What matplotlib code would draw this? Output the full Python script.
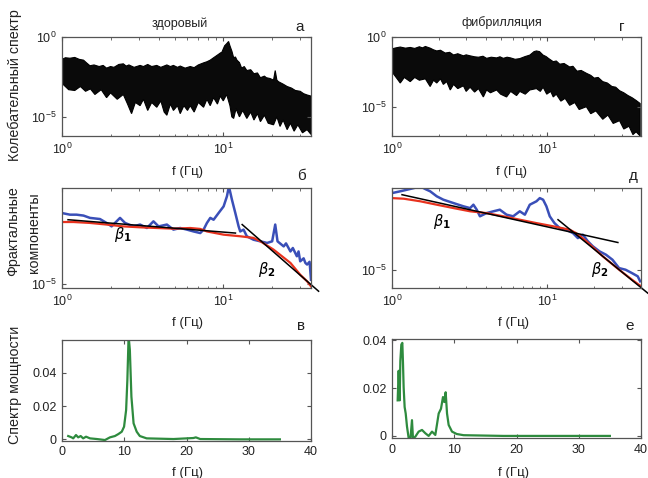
import numpy as np
import matplotlib
matplotlib.use("Agg")
import matplotlib.pyplot as plt
from matplotlib.ticker import FixedLocator, NullLocator, LogLocator, NullFormatter

plt.rcParams['font.family'] = ['Liberation Sans', 'DejaVu Sans']
plt.rcParams['axes.unicode_minus'] = True

# ---------------- data ----------------
# Panel a (healthy) oscillation-spectrum band: log10 envelopes
a_up_f = [1.0, 1.05, 1.12, 1.2, 1.28, 1.36, 1.42, 1.49, 1.58, 1.7, 1.8, 1.89, 2.0, 2.1, 2.25, 2.4, 2.5,
          2.6, 2.8, 3.05, 3.2, 3.4, 3.6, 3.87, 4.1, 4.47, 4.7, 4.91, 5.2, 5.41, 5.8, 6.24, 6.6, 7.0,
          7.55, 7.92, 8.3, 8.71, 9.0, 9.3, 9.6, 9.81, 10.0, 10.2, 10.54, 10.79, 11.0, 11.32, 11.6,
          11.9, 12.16, 12.6, 13.0, 13.5, 14.0, 14.8, 15.5, 16.3, 17.0, 18.0, 18.5, 19.5, 20.5, 21.0,
          21.5, 22.0, 23.5, 24.9, 26.5, 28.0, 30.0, 31.5, 33.1, 35.0]
a_up_lg = [-1.40, -1.30, -1.33, -1.28, -1.40, -1.45, -1.62, -1.80, -1.75, -1.85, -1.78, -1.95, -1.85,
           -1.90, -1.72, -1.68, -1.82, -1.75, -1.90, -1.78, -1.85, -1.72, -1.85, -1.78, -1.90, -1.75,
           -1.85, -1.78, -1.90, -1.82, -1.95, -1.85, -1.92, -1.75, -1.62, -1.55, -1.45, -1.30, -1.20,
           -1.10, -1.00, -0.95, -0.75, -0.55, -0.40, -0.28, -0.55, -0.90, -1.30, -1.25, -1.45, -1.60,
           -1.95, -1.85, -2.10, -2.05, -2.30, -2.25, -2.55, -2.45, -2.55, -2.60, -2.70, -2.10, -2.70,
           -2.80, -2.95, -3.10, -3.20, -3.35, -3.40, -3.55, -3.63, -3.70]
a_lo_f = [1.0, 1.1, 1.2, 1.3, 1.4, 1.5, 1.6, 1.75, 1.89, 2.0, 2.2, 2.4, 2.55, 2.7, 2.85, 3.05, 3.2, 3.4,
          3.6, 3.87, 4.1, 4.3, 4.47, 4.7, 4.91, 5.2, 5.41, 5.7, 6.0, 6.24, 6.6, 7.0, 7.55, 7.92, 8.3,
          8.71, 9.2, 9.58, 10.0, 10.5, 11.0, 11.3, 11.6, 12.0, 12.6, 13.2, 14.0, 14.8, 15.5, 16.3, 17.0,
          18.0, 19.0, 20.5, 21.5, 22.5, 23.5, 24.9, 26.1, 27.5, 29.0, 31.0, 33.1, 35.0]
a_lo_lg = [-2.9, -3.3, -3.35, -3.1, -3.4, -3.25, -3.6, -3.3, -3.8, -3.5, -3.9, -3.6, -4.2, -4.8, -4.1,
           -4.3, -3.9, -4.6, -4.1, -4.4, -4.0, -4.7, -4.9, -4.2, -4.6, -4.3, -4.8, -4.3, -4.6, -4.3,
           -4.7, -4.1, -4.4, -3.9, -4.3, -3.8, -4.2, -3.7, -4.0, -3.6, -4.3, -5.0, -5.1, -4.5, -5.0,
           -4.6, -5.1, -4.7, -5.2, -4.8, -5.3, -4.9, -5.4, -5.5, -5.0, -5.6, -5.2, -5.8, -5.4, -5.9,
           -5.5, -6.0, -5.8, -6.1]

# Panel г (fibrillation) band
g_up_f = [1.0, 1.06, 1.13, 1.22, 1.31, 1.4, 1.5, 1.57, 1.64, 1.76, 1.85, 1.94, 2.05, 2.2, 2.35, 2.49,
          2.65, 2.88, 3.0, 3.18, 3.4, 3.6, 3.85, 4.06, 4.35, 4.71, 4.95, 5.2, 5.5, 5.8, 6.2, 6.64, 7.2,
          7.7, 8.2, 8.5, 8.9, 9.38, 9.8, 10.2, 10.9, 11.4, 12.0, 12.8, 13.9, 14.6, 15.5, 16.5, 17.8,
          19.0, 20.0, 21.2, 22.7, 24.3, 26.0, 27.5, 29.1, 31.0, 33.0, 35.0, 37.2, 39.5]
g_up_lg = [-0.85, -0.78, -0.72, -0.80, -0.75, -0.82, -0.70, -0.78, -0.68, -0.80, -0.92, -1.00, -0.95,
           -1.15, -1.10, -1.29, -1.20, -1.35, -1.28, -1.35, -1.42, -1.45, -1.38, -1.53, -1.45, -1.50,
           -1.42, -1.53, -1.45, -1.50, -1.60, -1.55, -1.40, -1.30, -1.05, -1.00, -1.05, -1.30, -1.40,
           -1.55, -1.77, -1.72, -1.95, -1.90, -2.15, -2.10, -2.45, -2.40, -2.60, -2.75, -2.95, -2.90,
           -3.20, -3.30, -3.55, -3.60, -3.85, -4.00, -4.20, -4.35, -4.55, -4.77]
g_lo_f = [1.0, 1.08, 1.13, 1.2, 1.31, 1.4, 1.5, 1.64, 1.76, 1.85, 1.94, 2.05, 2.14, 2.25, 2.37, 2.49,
          2.65, 2.88, 3.0, 3.18, 3.4, 3.6, 3.87, 4.06, 4.3, 4.71, 5.0, 5.46, 5.8, 6.33, 6.64, 7.2, 7.7,
          8.5, 9.0, 9.38, 9.9, 10.5, 10.9, 11.4, 12.2, 13.0, 13.9, 15.0, 16.0, 17.8, 19.0, 20.5, 22.7,
          24.5, 26.5, 29.1, 31.0, 33.5, 35.5, 37.2, 39.5]
g_lo_lg = [-2.5, -3.0, -3.3, -2.9, -3.2, -2.9, -3.1, -3.0, -3.55, -3.1, -3.3, -3.0, -3.4, -3.2, -3.8,
           -3.4, -3.7, -3.5, -3.9, -3.6, -3.95, -3.7, -4.3, -3.8, -4.0, -3.8, -4.1, -4.3, -3.9, -4.2,
           -3.9, -4.1, -3.8, -3.7, -3.9, -3.6, -4.1, -3.9, -4.3, -4.1, -4.6, -4.4, -4.9, -4.7, -5.2,
           -5.0, -5.5, -5.3, -5.9, -5.6, -6.2, -6.0, -6.6, -6.4, -7.0, -6.8, -7.1]

# Panel б fractal components (healthy)
b_blue_f = [1.0, 1.12, 1.23, 1.36, 1.49, 1.72, 1.89, 2.03, 2.18, 2.29, 2.46, 2.77, 3.05, 3.36, 3.69,
            3.97, 4.47, 4.91, 5.41, 5.95, 6.54, 7.2, 7.55, 7.92, 8.31, 8.71, 9.35, 10.05, 10.54, 10.84,
            11.32, 11.88, 12.45, 12.74, 13.36, 14.0, 15.4, 17.0, 18.7, 20.1, 21.0, 21.7, 23.7, 24.5,
            26.1, 27.0, 28.6, 29.3, 30.0, 31.5, 32.3, 33.1, 34.3, 35.0]
b_blue_lg = [-1.93, -2.0, -2.0, -2.04, -2.14, -2.19, -2.36, -2.51, -2.29, -2.14, -2.36, -2.51, -2.43,
             -2.58, -2.29, -2.51, -2.43, -2.65, -2.58, -2.65, -2.73, -2.80, -2.65, -2.36, -2.14, -2.22,
             -1.93, -1.64, -1.20, -0.77, -1.35, -1.93, -2.51, -2.73, -2.65, -2.94, -3.09, -3.16, -3.23,
             -3.16, -2.43, -3.16, -3.38, -3.25, -3.60, -3.45, -3.81, -3.60, -4.03, -3.90, -4.10, -4.17,
             -4.05, -4.83]
b_red_f = [1.0, 1.18, 1.49, 1.89, 2.40, 3.05, 3.87, 4.91, 6.24, 7.2, 7.92, 10.05, 12.74, 15.4, 17.0,
           20.5, 26.1, 30.0, 33.1, 35.0]
b_red_lg = [-2.32, -2.32, -2.36, -2.43, -2.51, -2.55, -2.58, -2.61, -2.58, -2.62, -2.73, -2.87, -2.94,
            -3.01, -3.16, -3.52, -4.10, -4.61, -4.90, -5.12]
b_beta1_f = [1.09, 11.9]
b_beta1_lg = [-2.22, -2.80]
b_beta2_f = [13.1, 39.0]
b_beta2_lg = [-2.43, -5.33]

# Panel д fractal components (fibrillation)
d_blue_f = [1.0, 1.13, 1.25, 1.38, 1.52, 1.64, 1.76, 1.94, 2.14, 2.49, 2.88, 3.18, 3.34, 3.51, 3.68,
            4.06, 4.49, 4.94, 5.46, 6.02, 6.64, 7.16, 7.7, 8.5, 8.93, 9.38, 9.85, 10.35, 11.1, 12.0,
            13.2, 14.6, 15.7, 16.9, 18.2, 19.6, 21.6, 23.8, 26.2, 28.9, 31.8, 35.0, 38.1, 39.5]
d_blue_lg = [-1.17, -1.08, -1.0, -0.92, -0.83, -0.97, -1.08, -1.33, -1.5, -1.67, -1.83, -1.92, -1.75,
             -2.0, -2.33, -2.17, -2.08, -2.0, -2.25, -2.33, -2.08, -2.25, -1.75, -1.58, -1.42, -1.5,
             -1.83, -2.33, -2.67, -2.92, -3.0, -3.17, -3.42, -3.25, -3.58, -3.83, -4.08, -4.25, -4.5,
             -4.92, -5.0, -5.17, -5.33, -5.58]
d_red_f = [1.0, 1.19, 1.52, 1.94, 2.49, 3.18, 4.06, 5.2, 6.64, 8.5, 10.9, 13.9, 15.3, 17.8, 22.7, 28.9,
           35.0, 39.5]
d_red_lg = [-1.42, -1.45, -1.58, -1.75, -1.92, -2.08, -2.17, -2.33, -2.5, -2.67, -2.83, -3.0, -3.17,
            -3.58, -4.33, -5.0, -5.5, -5.8]
d_beta1_f = [1.16, 28.4]
d_beta1_lg = [-1.25, -3.64]
d_beta2_f = [11.7, 44.2]
d_beta2_lg = [-2.5, -6.17]

# Panel в power spectrum (healthy)
v_f = [1.0, 1.55, 1.8, 2.25, 2.6, 3.0, 3.4, 3.86, 4.5, 5.6, 6.9, 7.7, 8.5, 9.06, 9.6, 9.97, 10.3, 10.5,
       10.7, 10.9, 11.15, 11.5, 12.0, 12.5, 13.6, 17.9, 21.1, 21.5, 22.2, 28.6, 35.0]
v_p = [0.002, 0.0012, 0.0006, 0.0026, 0.0012, 0.002, 0.0006, 0.0016, 0.0006, 0.0002, -0.0004, 0.0012,
       0.002, 0.0032, 0.0046, 0.0076, 0.0176, 0.0356, 0.062, 0.0536, 0.0256, 0.0096, 0.0046, 0.002,
       0.0006, 0.0002, 0.0008, 0.0012, 0.0002, 0.0, 0.0]

# Panel е power spectrum (fibrillation)
e_f = [0.91, 1.07, 1.23, 1.34, 1.50, 1.66, 1.77, 1.87, 2.03, 2.2, 2.41, 2.68, 2.95, 3.21, 3.37, 3.75,
       4.28, 4.82, 5.36, 5.89, 6.43, 6.96, 7.5, 7.87, 8.19, 8.41, 8.62, 8.84, 9.1, 9.64, 10.4, 11.5,
       17.9, 35.0]
e_p = [0.0149, 0.0273, 0.0149, 0.0314, 0.0383, 0.039, 0.0301, 0.0204, 0.0121, 0.0094, 0.0039, -0.001,
       -0.0017, 0.0066, -0.001, -0.0003, 0.0018, 0.0025, 0.0011, 0.0, 0.0018, 0.0004, 0.0094, 0.0114,
       0.0163, 0.0142, 0.0183, 0.0094, 0.0046, 0.0018, 0.0008, 0.0003, 0.0, 0.0]

# ---------------- figure ----------------
W, H = 648, 478
fig = plt.figure(figsize=(W / 100, H / 100), dpi=100)


def rect(l, t, r, b):
    return [l / W, 1 - b / H, (r - l) / W, (b - t) / H]


def px(x, y):
    return x / W, 1 - y / H


FRAME = '#555555'
TICKFS = 9


def style(ax):
    for s in ax.spines.values():
        s.set_color(FRAME)
        s.set_linewidth(0.9)
    ax.tick_params(which='both', direction='in', top=True, right=True, color=FRAME,
                   labelsize=TICKFS, labelcolor='#222222', pad=4)
    ax.tick_params(which='major', length=3)
    ax.tick_params(which='minor', length=1.8)


def logax(ax, xmax, ylo, yhi, yticks):
    ax.set_xscale('log')
    ax.set_yscale('log')
    ax.set_xlim(1, xmax)
    ax.set_ylim(10 ** ylo, 10 ** yhi)
    ax.xaxis.set_major_locator(FixedLocator([1, 10]))
    ax.xaxis.set_minor_locator(LogLocator(base=10, subs=np.arange(2, 10)))
    ax.xaxis.set_minor_formatter(NullFormatter())
    ax.yaxis.set_major_locator(FixedLocator(yticks))
    ax.yaxis.set_minor_locator(NullLocator())
    style(ax)


def band(ax, fu, lu, fl, ll):
    xs = np.concatenate([fu, np.array(fl)[::-1]])
    ys = 10 ** np.concatenate([lu, np.array(ll)[::-1]])
    ax.fill(xs, ys, color='#0a0a0a', lw=0.8, ec='black')


# a
ax_a = fig.add_axes(rect(62, 37, 311, 136))
band(ax_a, a_up_f, a_up_lg, a_lo_f, a_lo_lg)
logax(ax_a, 35, -6.2, 0.0, [1e-5, 1e0])

# г
ax_g = fig.add_axes(rect(392, 37, 641, 136))
band(ax_g, g_up_f, g_up_lg, g_lo_f, g_lo_lg)
logax(ax_g, 40, -7.1, 0.0, [1e-5, 1e0])

BLUE = '#3a4fb8'
RED = '#e8321e'

# б
ax_b = fig.add_axes(rect(62, 188, 311, 288))
ax_b.plot(b_blue_f, 10 ** np.array(b_blue_lg), color=BLUE, lw=1.8)
ax_b.plot(b_red_f, 10 ** np.array(b_red_lg), color=RED, lw=1.6)
ax_b.plot(b_beta1_f, 10 ** np.array(b_beta1_lg), color='black', lw=1.1)
ax_b.plot(b_beta2_f, 10 ** np.array(b_beta2_lg), color='black', lw=1.1, clip_on=False)
logax(ax_b, 35, -5.19, -0.84, [1e-5])
ax_b.text(2.4, 10 ** -2.87, r'$\beta_{\mathbf{1}}$', fontsize=10.5, ha='center', va='center')
ax_b.text(18.7, 10 ** -4.39, r'$\beta_{\mathbf{2}}$', fontsize=10.5, ha='center', va='center')

# д
ax_d = fig.add_axes(rect(392, 188, 641, 288))
ax_d.plot(d_blue_f, 10 ** np.array(d_blue_lg), color=BLUE, lw=1.8)
ax_d.plot(d_red_f, 10 ** np.array(d_red_lg), color=RED, lw=1.6)
ax_d.plot(d_beta1_f, 10 ** np.array(d_beta1_lg), color='black', lw=1.1)
ax_d.plot(d_beta2_f, 10 ** np.array(d_beta2_lg), color='black', lw=1.1, clip_on=False)
logax(ax_d, 40, -5.915, -0.915, [1e-5])
ax_d.text(2.1, 10 ** -2.58, r'$\beta_{\mathbf{1}}$', fontsize=10.5, ha='center', va='center')
ax_d.text(21.6, 10 ** -4.97, r'$\beta_{\mathbf{2}}$', fontsize=10.5, ha='center', va='center')

GREEN = '#2e8b3e'

# в
ax_v = fig.add_axes(rect(62, 340, 311, 440.7))
ax_v.plot(v_f, v_p, color=GREEN, lw=1.6)
ax_v.set_xlim(0, 40)
ax_v.set_ylim(-0.0008, 0.0596)
ax_v.set_xticks([0, 10, 20, 30, 40])
ax_v.set_yticks([0, 0.02, 0.04])
ax_v.set_yticklabels(['0', '0.02', '0.04'])
style(ax_v)

# е
ax_e = fig.add_axes(rect(392, 339.3, 641, 438.3))
ax_e.plot(e_f, e_p, color=GREEN, lw=1.6)
ax_e.set_xlim(0, 40)
ax_e.set_ylim(-0.001, 0.0405)
ax_e.set_xticks([0, 10, 20, 30, 40])
ax_e.set_yticks([0, 0.02, 0.04])
ax_e.set_yticklabels(['0', '0.02', '0.04'])
style(ax_e)

# ---------------- texts ----------------
TXT = '#222222'
fig.text(*px(180, 24), 'здоровый', fontsize=9, ha='center', va='center', color=TXT)
fig.text(*px(502, 23), 'фибрилляция', fontsize=9, ha='center', va='center', color=TXT)
letters = [(300, 27, 'а'), (622, 27, 'г'), (301, 176, 'б'), (633, 176, 'д'), (301, 326, 'в'), (630, 326, 'е')]
for x, y, s in letters:
    fig.text(*px(x, y), s, fontsize=11, ha='center', va='center', color=TXT)
for x, y in [(187, 172), (512, 172), (187, 323), (513, 323), (187, 473), (513, 473)]:
    fig.text(*px(x, y), 'f (Гц)', fontsize=9.5, ha='center', va='center', color=TXT)

YL = dict(fontsize=10.3, rotation=90, ha='center', va='center', color=TXT)
fig.text(*px(15, 85), 'Колебательный спектр', **YL)
fig.text(*px(13, 231), 'Фрактальные', **YL)
fig.text(*px(34, 233), 'компоненты', **YL)
fig.text(*px(15, 385), 'Спектр мощности', **YL)

fig.savefig('out.png', dpi=100, facecolor='white')
